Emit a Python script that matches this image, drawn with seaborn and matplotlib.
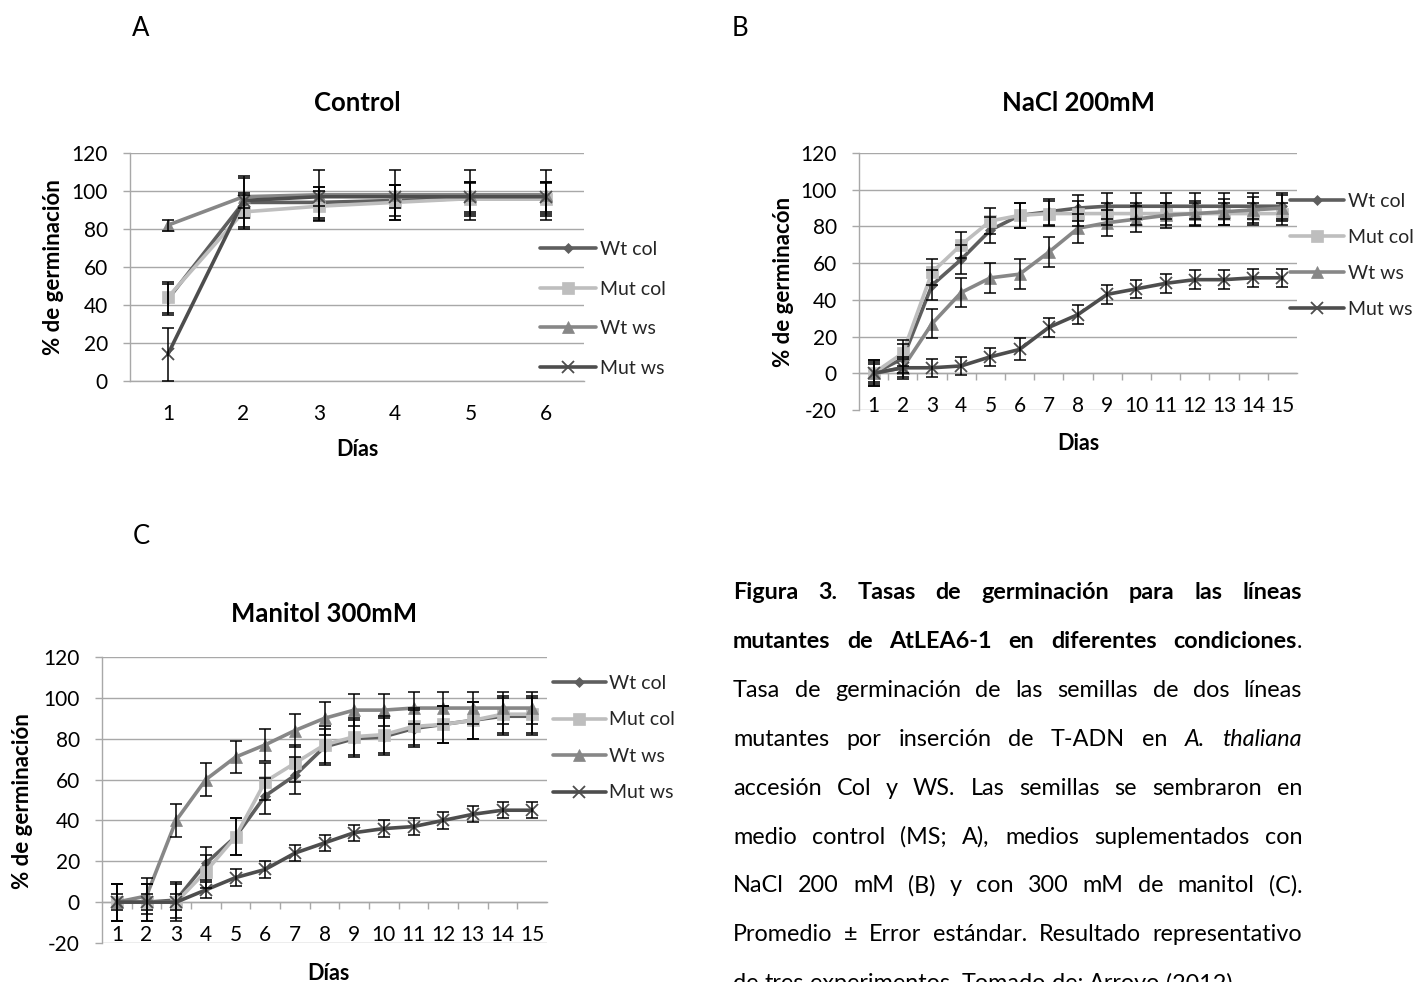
import matplotlib
matplotlib.use("Agg")
import matplotlib.pyplot as plt
from matplotlib.ticker import FixedLocator, MultipleLocator
import seaborn as sns

sns.set_theme(style="white")
plt.rcParams["font.family"] = ["Lato", "DejaVu Sans"]
plt.rcParams["axes.unicode_minus"] = False

W, H, DPI = 1416, 982, 100

# ---------------- data ----------------
lineas = ["Wt col", "Mut col", "Wt ws", "Mut ws"]

dias_control = [1, 2, 3, 4, 5, 6]
control_wt_col = [43, 94, 94, 95, 96, 96]
control_mut_col = [44, 89, 92, 94, 96, 96]
control_wt_ws = [82, 97, 98, 98, 98, 98]
control_mut_ws = [14, 95, 97, 97, 97, 97]
control_wt_col_err = [8, 13, 8, 8, 8, 8]
control_mut_col_err = [8, 9, 8, 9, 9, 9]
control_wt_ws_err = [3, 11, 13, 13, 13, 13]
control_mut_ws_err = [14, 4, 5, 6, 8, 8]

dias_sal = list(range(1, 16))
nacl_wt_col = [0, 8, 48, 62, 78, 86, 88, 90, 91, 91, 91, 91, 91, 91, 91]
nacl_mut_col = [0, 11, 55, 70, 83, 86, 87, 87, 87, 87, 87, 87, 87, 87, 87]
nacl_wt_ws = [0, 3, 27, 44, 52, 54, 66, 79, 82, 84, 86, 87, 88, 89, 90]
nacl_mut_ws = [0, 3, 3, 4, 9, 13, 25, 32, 43, 46, 49, 51, 51, 52, 52]
nacl_wt_col_err = [7, 8, 8, 8, 7, 7, 7, 7, 7, 7, 7, 7, 7, 7, 7]
nacl_mut_col_err = [7, 7, 7, 7, 7, 7, 7, 7, 6, 6, 6, 6, 6, 6, 6]
nacl_wt_ws_err = [6, 6, 8, 8, 8, 8, 8, 8, 7, 7, 7, 7, 7, 7, 7]
nacl_mut_ws_err = [5, 5, 5, 5, 5, 6, 5, 5, 5, 5, 5, 5, 5, 5, 5]

dias_manitol = list(range(1, 16))
manitol_wt_col = [0, 0, 1, 19, 32, 52, 62, 76, 80, 81, 85, 87, 89, 91, 91]
manitol_mut_col = [0, 0, 0, 15, 32, 59, 68, 77, 81, 82, 86, 87, 89, 92, 92]
manitol_wt_ws = [0, 3, 40, 60, 71, 77, 84, 90, 94, 94, 95, 95, 95, 95, 95]
manitol_mut_ws = [0, 0, 0, 6, 12, 16, 24, 29, 34, 36, 37, 40, 43, 45, 45]
manitol_wt_col_err = [9, 9, 9, 8, 9, 9, 9, 9, 9, 9, 9, 9, 9, 9, 9]
manitol_mut_col_err = [9, 9, 9, 8, 9, 9, 9, 9, 9, 9, 9, 9, 9, 9, 9]
manitol_wt_ws_err = [9, 9, 8, 8, 8, 8, 8, 8, 8, 8, 8, 8, 8, 8, 8]
manitol_mut_ws_err = [4, 4, 4, 4, 4, 4, 4, 4, 4, 4, 4, 4, 4, 4, 4]

# ---------------- styles ----------------
colores = {"Wt col": "#5e5e5e", "Mut col": "#bebebe", "Wt ws": "#878787", "Mut ws": "#4d4d4d"}
marcadores = {"Wt col": "D", "Mut col": "s", "Wt ws": "^", "Mut ws": "x"}
tam_marcador = {"Wt col": 4.8, "Mut col": 8, "Wt ws": 8, "Mut ws": 8}
GRIS = "#a8a8a8"
TICK_FS = 15
LEG_FS = 14

fig = plt.figure(figsize=(W / DPI, H / DPI), dpi=DPI)
fig.patch.set_facecolor("white")


def px_axes(left, top, right, bottom):
    return fig.add_axes([left / W, 1 - bottom / H, (right - left) / W, (bottom - top) / H])


def panel(ax, dias, valores, errores, ymin, titulo, ylabel, xlabel,
          title_px, ylab_px, xlab_px, leg_px, leg_spacing, handle_len, minor_ticks):
    box = ax.get_position()
    ax_l = box.x0 * W
    ax_top = (1 - box.y1) * H
    ax_w, ax_h = box.width * W, box.height * H
    handles = []
    for nombre, vals in zip(lineas, valores):
        sns.lineplot(x=dias, y=vals, ax=ax, color=colores[nombre], lw=2.6,
                     marker=marcadores[nombre], markersize=tam_marcador[nombre],
                     markeredgecolor=colores[nombre],
                     markeredgewidth=1.3 if nombre == "Mut ws" else 0.5,
                     label=nombre, legend=False, zorder=3)
        handles.append(ax.lines[-1])
    for vals, errs in zip(valores, errores):
        ax.errorbar(dias, vals, yerr=errs, fmt="none", ecolor="black",
                    elinewidth=1.1, capsize=4.5, capthick=1.1, zorder=5)

    ax.set_xlim(0.5, len(dias) + 0.5)
    ax.set_ylim(ymin, 120)
    ax.yaxis.set_major_locator(MultipleLocator(20))
    ax.xaxis.set_major_locator(FixedLocator(dias))
    ax.set_xticklabels([str(d) for d in dias])
    if minor_ticks:
        ax.xaxis.set_minor_locator(FixedLocator([d + 0.5 for d in dias[:-1]]))
        ax.tick_params(axis="x", which="minor", length=5, width=1, color=GRIS,
                       direction="out", bottom=True)
    ax.grid(axis="y", color=GRIS, lw=1)
    ax.grid(axis="x", visible=False)
    for s in ("top", "right"):
        ax.spines[s].set_visible(False)
    for s in ("left", "bottom"):
        ax.spines[s].set_color(GRIS)
        ax.spines[s].set_linewidth(1)
    ax.spines["bottom"].set_position(("data", 0))
    ax.tick_params(axis="y", which="major", length=5, width=1, color=GRIS, direction="out",
                   left=True, pad=11, labelsize=TICK_FS, labelcolor="black")
    ax.tick_params(axis="x", which="major", length=0, pad=16.5,
                   labelsize=TICK_FS, labelcolor="black")

    # title, centred at a given height above the plot area
    ax.set_title(titulo, fontsize=18.5, fontweight="bold", color="black",
                 y=1 + (ax_top - title_px) / ax_h, va="center", pad=0)
    # axis labels
    ax.set_ylabel(ylabel, fontsize=16, fontweight="bold", color="black",
                  va="center", ha="center")
    ax.yaxis.set_label_coords((ylab_px[0] - ax_l) / ax_w, 1 - (ylab_px[1] - ax_top) / ax_h)
    ax.set_xlabel(xlabel, fontsize=15.5, fontweight="bold", color="black", va="center")
    ax.xaxis.set_label_coords((xlab_px[0] - ax_l) / ax_w, 1 - (xlab_px[1] - ax_top) / ax_h)

    fig.legend(handles, lineas, loc="upper left",
               bbox_to_anchor=(leg_px[0] / W, 1 - leg_px[1] / H),
               bbox_transform=fig.transFigure, frameon=False, fontsize=LEG_FS,
               borderpad=0, borderaxespad=0, handlelength=handle_len,
               handletextpad=0.2, labelspacing=leg_spacing, numpoints=1)


# Panel A: control
axA = px_axes(130, 153, 584, 381)
panel(axA, dias_control,
      [control_wt_col, control_mut_col, control_wt_ws, control_mut_ws],
      [control_wt_col_err, control_mut_col_err, control_wt_ws_err, control_mut_ws_err],
      0, "Control", "% de germinación", "Días",
      title_px=103, ylab_px=(54, 267), xlab_px=(357, 450),
      leg_px=(540, 241), leg_spacing=1.16, handle_len=2.9, minor_ticks=False)

# Panel B: NaCl
axB = px_axes(859, 153, 1297, 410)
panel(axB, dias_sal,
      [nacl_wt_col, nacl_mut_col, nacl_wt_ws, nacl_mut_ws],
      [nacl_wt_col_err, nacl_mut_col_err, nacl_wt_ws_err, nacl_mut_ws_err],
      -20, "NaCl 200mM", "% de germinacón", "Dias",
      title_px=103, ylab_px=(783, 282), xlab_px=(1078, 444),
      leg_px=(1290, 193), leg_spacing=0.97, handle_len=2.8, minor_ticks=True)

# Panel C: manitol
axC = px_axes(102, 657, 547, 943)
panel(axC, dias_manitol,
      [manitol_wt_col, manitol_mut_col, manitol_wt_ws, manitol_mut_ws],
      [manitol_wt_col_err, manitol_mut_col_err, manitol_wt_ws_err, manitol_mut_ws_err],
      -20, "Manitol 300mM", "% de germinación", "Días",
      title_px=614, ylab_px=(23, 801), xlab_px=(328, 973),
      leg_px=(553, 675), leg_spacing=1.0, handle_len=2.7, minor_ticks=True)

# panel letters
for letra, (px, py) in {"A": (141, 28), "B": (740, 28), "C": (141, 537)}.items():
    fig.text(px / W, 1 - py / H, letra, fontsize=18.5, ha="center", va="center", color="black")


# ---------------- caption (justified) ----------------
def palabras(texto, estilo):
    return [[(w, estilo)] for w in texto.split()]


leyenda = [
    palabras("Figura 3. Tasas de germinación para las líneas", "b"),
    palabras("mutantes de AtLEA6-1 en diferentes", "b") + [[("condiciones", "b"), (".", "n")]],
    palabras("Tasa de germinación de las semillas de dos líneas", "n"),
    palabras("mutantes por inserción de T-ADN en", "n") + palabras("A. thaliana", "i"),
    palabras("accesión Col y WS. Las semillas se sembraron en", "n"),
    palabras("medio control (MS; A), medios suplementados con", "n"),
    palabras("NaCl 200 mM (B) y con 300 mM de manitol (C).", "n"),
    palabras("Promedio ± Error estándar. Resultado representativo", "n"),
    palabras("de tres experimentos. Tomado de: Arroyo (2012).", "n"),
]

CAP_FS = 16.8
X0, X1 = 733, 1302
BASE0, PASO = 599, 48.9
renderer = fig.canvas.get_renderer()


def crear(seg, estilo):
    return fig.text(0, 0, seg, fontsize=CAP_FS, color="black", ha="left", va="baseline",
                    fontweight="bold" if estilo == "b" else "normal",
                    fontstyle="italic" if estilo == "i" else "normal")


def ancho(t):
    return t.get_window_extent(renderer=renderer).width


tmp1, tmp2 = crear("n n", "n"), crear("nn", "n")
espacio = ancho(tmp1) - ancho(tmp2)
tmp1.remove()
tmp2.remove()

for i, linea in enumerate(leyenda):
    base = BASE0 + i * PASO
    objs, anchos = [], []
    for palabra in linea:
        ts = [crear(seg, est) for seg, est in palabra]
        objs.append(ts)
        anchos.append(sum(ancho(t) for t in ts))
    ultima = i == len(leyenda) - 1
    hueco = espacio if ultima else max(espacio * 0.6, (X1 - X0 - sum(anchos)) / (len(linea) - 1))
    x = X0
    for ts, a in zip(objs, anchos):
        xx = x
        for t in ts:
            t.set_position((xx / W, 1 - base / H))
            xx += ancho(t)
        x += a + hueco

fig.savefig("out.png", dpi=DPI, facecolor="white")
